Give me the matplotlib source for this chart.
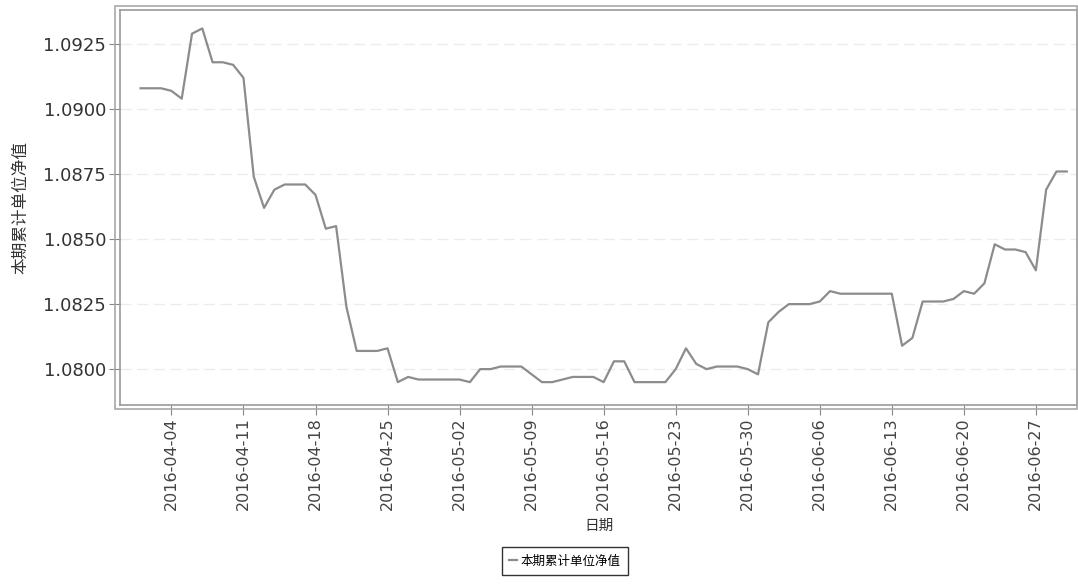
import pandas as pd
import matplotlib
matplotlib.use('Agg')
from matplotlib import pyplot as plt
import matplotlib.dates as mdates
from matplotlib.patches import Rectangle

plt.rcParams['font.family'] = ['DejaVu Sans', 'Noto Sans CJK SC']
plt.rcParams['axes.unicode_minus'] = False

# 2016-04-01 到 2016-06-30 每日净值
start_date = '2016-04-01'
end_date = '2016-06-30'
nav_apr = [1.0908, 1.0908, 1.0908, 1.0907, 1.0904, 1.0929, 1.0931, 1.0918, 1.0918, 1.0917,
           1.0912, 1.0874, 1.0862, 1.0869, 1.0871, 1.0871, 1.0871, 1.0867, 1.0854, 1.0855,
           1.0824, 1.0807, 1.0807, 1.0807, 1.0808, 1.0795, 1.0797, 1.0796, 1.0796, 1.0796]
nav_may = [1.0796, 1.0796, 1.0795, 1.0800, 1.0800, 1.0801, 1.0801, 1.0801, 1.0798, 1.0795,
           1.0795, 1.0796, 1.0797, 1.0797, 1.0797, 1.0795, 1.0803, 1.0803, 1.0795, 1.0795,
           1.0795, 1.0795, 1.0800, 1.0808, 1.0802, 1.0800, 1.0801, 1.0801, 1.0801, 1.0800,
           1.0798]
nav_jun = [1.0818, 1.0822, 1.0825, 1.0825, 1.0825, 1.0826, 1.0830, 1.0829, 1.0829, 1.0829,
           1.0829, 1.0829, 1.0829, 1.0809, 1.0812, 1.0826, 1.0826, 1.0826, 1.0827, 1.0830,
           1.0829, 1.0833, 1.0848, 1.0846, 1.0846, 1.0845, 1.0838, 1.0869, 1.0876, 1.0876]

tick_dates = ['2016-04-04', '2016-04-11', '2016-04-18', '2016-04-25', '2016-05-02',
              '2016-05-09', '2016-05-16', '2016-05-23', '2016-05-30', '2016-06-06',
              '2016-06-13', '2016-06-20', '2016-06-27']
y_ticks = [1.0800, 1.0825, 1.0850, 1.0875, 1.0900, 1.0925]

series_name = '本期累计单位净值'
x_name = '日期'

if __name__ == '__main__':
    dates = pd.date_range(start_date, end_date, freq='D')
    values = nav_apr + nav_may + nav_jun

    fig = plt.figure(figsize=(10.78, 5.88), dpi=100)
    ax = fig.add_axes([0.1113, 0.3112, 0.8878, 0.6718])

    ax.plot(dates, values, color='#8c8c8c', linewidth=1.6, label=series_name,
            solid_joinstyle='round')

    ax.set_xlim(pd.Timestamp('2016-03-30'), pd.Timestamp('2016-07-01'))
    ax.set_ylim(1.07862, 1.09381)
    ax.set_xticks(pd.to_datetime(tick_dates))
    ax.xaxis.set_major_formatter(mdates.DateFormatter('%Y-%m-%d'))
    ax.set_yticks(y_ticks)
    ax.yaxis.set_major_formatter(plt.FormatStrFormatter('%.4f'))
    ax.tick_params(axis='x', labelrotation=90, labelsize=11.5, length=7, color='#888888',
                   labelcolor='#444444', pad=2)
    ax.tick_params(axis='y', labelsize=13, length=8, color='#888888',
                   labelcolor='#333333', pad=2)

    ax.grid(axis='y', color='#ececec', linestyle=(0, (8, 4)), linewidth=1)
    for s in ax.spines.values():
        s.set_color('#9a9a9a')
        s.set_linewidth(1.2)

    # 外层边框
    W, H = 1078.0, 588.0
    fig.patches.append(Rectangle((115 / W, 1 - 409 / H), (1077 - 115) / W, (409 - 6) / H,
                                 transform=fig.transFigure, fill=False,
                                 edgecolor='#a8a8a8', linewidth=1.2))

    ax.set_ylabel(series_name, family=['Noto Sans CJK SC', 'DejaVu Sans'], fontsize=12,
                  color='#333333', labelpad=10)
    ax.set_xlabel(x_name, family=['Noto Sans CJK SC', 'DejaVu Sans'], fontsize=10.5,
                  color='#333333', labelpad=6)

    leg = fig.legend(loc='center', bbox_to_anchor=(565 / W, 1 - 561 / H), frameon=True,
                     fancybox=False, edgecolor='black', handlelength=0.6, handletextpad=0.3,
                     borderpad=0.6, borderaxespad=0,
                     prop={'family': ['Noto Sans CJK SC', 'DejaVu Sans'], 'size': 9})
    leg.get_frame().set_linewidth(1.0)

    plt.savefig('out.png', dpi=100)
